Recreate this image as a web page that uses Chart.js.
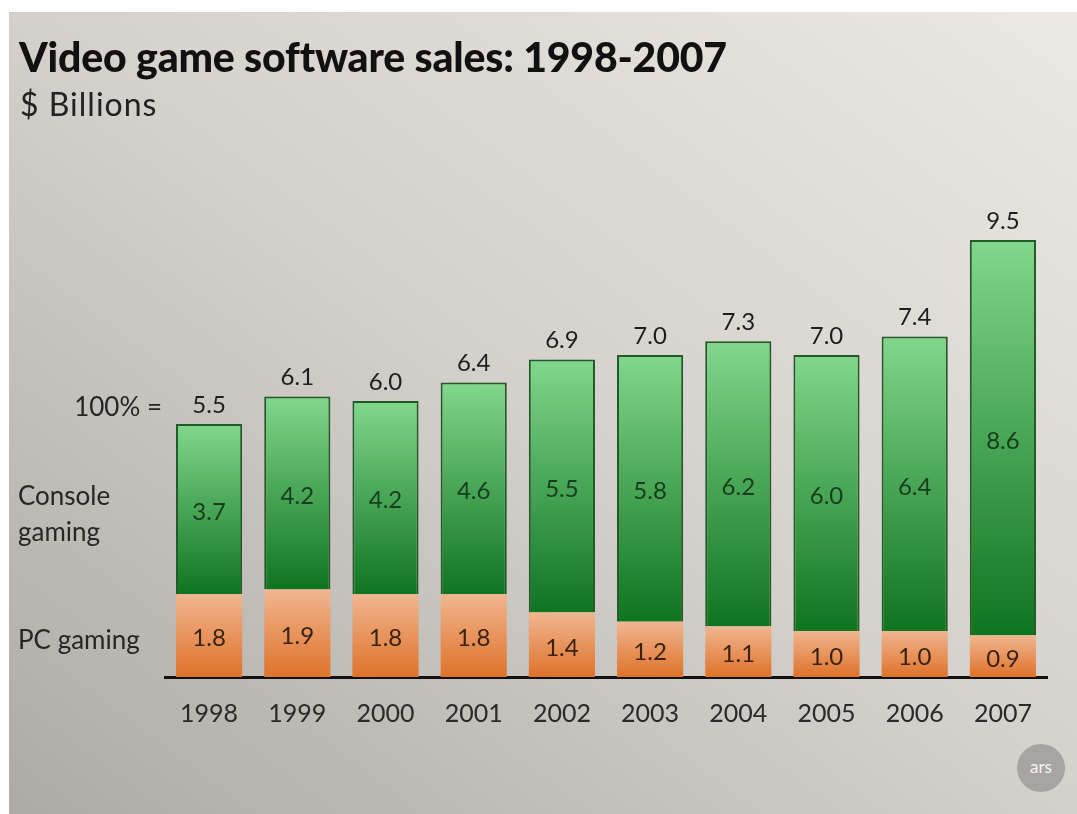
<!DOCTYPE html>
<html>
<head>
<meta charset="utf-8">
<script src="https://cdn.jsdelivr.net/npm/chart.js@4.4.1/dist/chart.umd.min.js"></script>
<style>
    html, body { margin: 0; padding: 0; background: #ffffff; }
    body { width: 1077px; height: 814px; position: relative; overflow: hidden; font-family: Lato, 'Open Sans', sans-serif; color: #1e1e1e; }
    .panel { position: absolute; left: 9px; top: 12px; right: 0; bottom: 0; background: linear-gradient(to bottom left, #ece8e3 0%, #d4d0cb 50%, #aeaaa4 100%); }
    #chart-wrap { position: absolute; left: 0; top: 0; width: 1077px; height: 814px; }
    .title { position: absolute; left: 19px; top: 32px; font-size: 41px; font-weight: 900; letter-spacing: -0.2px; color: #111; }
    .subtitle { position: absolute; left: 20px; top: 84px; font-size: 32px; letter-spacing: 1px; color: #222; }
    .side { position: absolute; font-size: 26px; color: #262626; line-height: 36px; }
    .ars { position: absolute; left: 1017px; top: 744px; width: 48px; height: 48px; border-radius: 50%; background: #a7a4a1; color: #f4f4f4; font-size: 17px; text-align: center; line-height: 46px; }
</style>
</head>
<body>
<div class="panel"></div>
<div id="chart-wrap"><canvas id="salesChart" width="1077" height="814"></canvas></div>
<div class="title">Video game software sales: 1998-2007</div>
<div class="subtitle">$ Billions</div>
<div class="side" style="right: 915px; top: 388px;">100% =</div>
<div class="side" style="left: 18px; top: 477px;">Console<br>gaming</div>
<div class="side" style="left: 18px; top: 621px;">PC gaming</div>
<div class="ars">ars</div>
<script>
// Video game software sales, stacked bars (PC at the bottom, console on top)

const years = ['1998', '1999', '2000', '2001', '2002', '2003', '2004', '2005', '2006', '2007'];
const consoleSales = [3.7, 4.2, 4.2, 4.6, 5.5, 5.8, 6.2, 6.0, 6.4, 8.6];
const pcSales = [1.8, 1.9, 1.8, 1.8, 1.4, 1.2, 1.1, 1.0, 1.0, 0.9];
const totalSales = [5.5, 6.1, 6.0, 6.4, 6.9, 7.0, 7.3, 7.0, 7.4, 9.5];

const labelFont = '24px Lato, "Open Sans", sans-serif';

// vertical gradient spanning one stacked segment
function segmentGradient(topColor, bottomColor, below) {
    return function(context) {
        const chart = context.chart;
        if (!chart.chartArea || context.type !== 'data') return bottomColor;
        const yScale = chart.scales.y;
        const base = below ? below[context.dataIndex] : 0;
        const top = yScale.getPixelForValue(base + context.raw);
        const bottom = yScale.getPixelForValue(base);
        const g = chart.ctx.createLinearGradient(0, top, 0, bottom);
        g.addColorStop(0, topColor);
        g.addColorStop(1, bottomColor);
        return g;
    };
}

const barLabelsPlugin = {
    id: 'barLabels',
    afterDatasetsDraw(chart) {
        const ctx = chart.ctx;
        ctx.save();
        ctx.textAlign = 'center';
        ctx.textBaseline = 'middle';
        ctx.font = labelFont;

        const pcMeta = chart.getDatasetMeta(0);
        const consoleMeta = chart.getDatasetMeta(1);

        pcMeta.data.forEach((bar, i) => {
            ctx.fillStyle = '#3a2212';
            ctx.fillText(pcSales[i].toFixed(1), bar.x, (bar.y + bar.base) / 2 + 3);
        });
        consoleMeta.data.forEach((bar, i) => {
            ctx.fillStyle = '#173d1c';
            ctx.fillText(consoleSales[i].toFixed(1), bar.x, (bar.y + bar.base) / 2 + 3);
            ctx.fillStyle = '#1e1e1e';
            ctx.fillText(totalSales[i].toFixed(1), bar.x, bar.y - 19);
        });
        ctx.restore();
    }
};

const ctx = document.getElementById('salesChart').getContext('2d');

new Chart(ctx, {
    type: 'bar',
    plugins: [barLabelsPlugin],
    data: {
        labels: years,
        datasets: [{
            label: 'PC gaming',
            data: pcSales,
            backgroundColor: segmentGradient('#f0b690', '#df722a'),
            borderWidth: 0,
            categoryPercentage: 0.75,
            barPercentage: 1
        }, {
            label: 'Console gaming',
            data: consoleSales,
            backgroundColor: segmentGradient('#82d78c', '#0f7420', pcSales),
            borderColor: '#1f5a27',
            borderWidth: 2,
            borderSkipped: 'bottom',
            categoryPercentage: 0.75,
            barPercentage: 1
        }]
    },
    options: {
        responsive: false,
        animation: false,
        layout: {
            padding: { left: 165, right: 30, top: 217, bottom: 63 }
        },
        plugins: {
            legend: { display: false },
            tooltip: { enabled: false }
        },
        scales: {
            x: {
                stacked: true,
                grid: { display: false, drawTicks: false },
                border: { display: true, color: '#111111', width: 3 },
                ticks: {
                    color: '#2a2a2a',
                    padding: 22,
                    font: { family: 'Lato, "Open Sans", sans-serif', size: 25 }
                }
            },
            y: {
                stacked: true,
                display: false,
                min: 0,
                max: 10
            }
        }
    }
});
</script>
</body>
</html>
